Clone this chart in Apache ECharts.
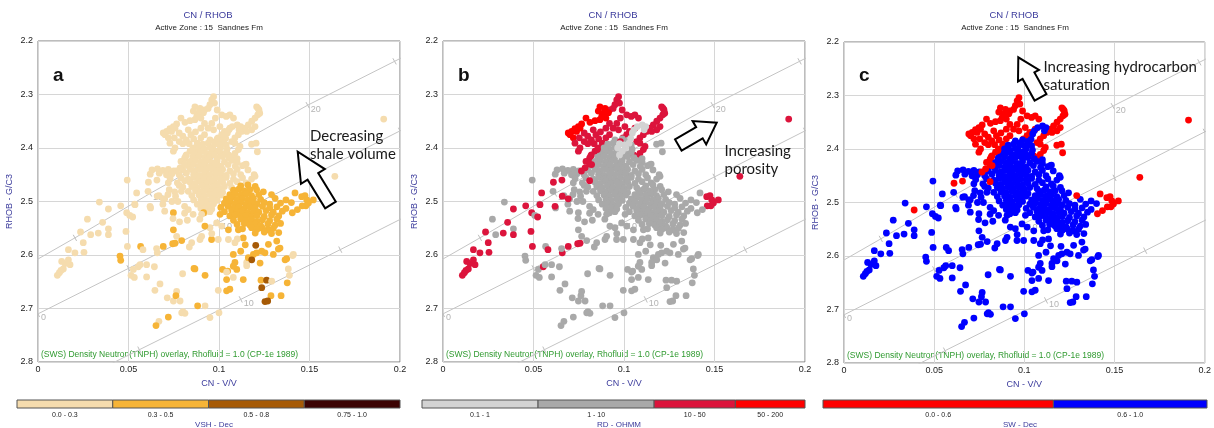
<!DOCTYPE html>
<html>
<head>
<meta charset="utf-8">
<script src="https://cdn.jsdelivr.net/npm/echarts@6/dist/echarts.min.js"></script>
<style>
  html, body { margin: 0; padding: 0; background: #ffffff; }
  #chart { width: 1214px; height: 428px; }
</style>
</head>
<body>
<div id="chart"></div>
<script>
// ---------------------------------------------------------------
// Sandnes Fm, zone 15 : CN / RHOB crossplots coloured by VSH, RD, SW
// Each sample: [CN (v/v), RHOB (g/cc), VSH bin, RD bin, SW bin]
// ---------------------------------------------------------------

// upper, high-resistivity part of the cloud
const upperZone = [
  [0.0970,2.304,0,2,0],[0.0960,2.310,0,2,0],[0.0975,2.316,0,2,0],[0.0950,2.319,0,2,0],[0.0940,2.326,0,2,0],
  [0.0920,2.329,0,2,0],[0.0990,2.329,0,2,0],[0.1015,2.338,0,2,0],[0.1040,2.341,0,2,0],[0.1060,2.338,0,2,0],
  [0.1080,2.344,0,2,0],[0.0980,2.344,0,2,0],[0.0960,2.354,0,2,0],[0.0940,2.363,0,2,0],[0.0970,2.366,0,2,0],
  [0.0920,2.375,0,2,0],[0.0900,2.381,0,2,0],[0.0880,2.391,0,2,0],[0.0860,2.400,0,2,0],[0.0840,2.406,0,2,0],
  [0.0820,2.413,0,2,0],[0.0810,2.419,0,2,0],[0.0790,2.425,0,2,0],[0.0860,2.413,0,2,0],[0.0880,2.406,0,2,0],
  [0.0895,2.403,0,2,0],[0.0995,2.381,0,2,0],[0.1015,2.375,0,2,0],[0.1030,2.369,0,2,0],
  [0.1060,2.363,0,2,0],[0.1005,2.360,0,2,0],[0.0920,2.354,0,2,0],[0.0900,2.363,0,2,0],
  [0.0780,2.372,0,2,0],[0.0800,2.378,0,2,0],[0.0820,2.385,0,2,0],[0.0835,2.392,0,2,0],[0.0800,2.392,0,2,0],
  [0.0780,2.388,0,2,0],[0.0845,2.375,0,2,0],[0.0830,2.366,0,2,0],[0.0870,2.370,0,2,0],[0.0860,2.383,0,2,0],
  [0.0867,2.323,0,3,0],[0.0895,2.326,0,3,0],[0.0914,2.334,0,3,0],[0.0886,2.335,0,3,0],[0.0858,2.331,0,3,0],
  [0.0877,2.341,0,3,0],[0.0900,2.344,0,3,0],[0.0867,2.347,0,3,0],[0.0840,2.349,0,3,0],[0.0812,2.352,0,3,0],
  [0.0790,2.344,0,3,0],[0.0766,2.355,0,3,0],[0.0748,2.360,0,3,0],[0.0729,2.364,0,3,0],[0.0711,2.369,0,3,0],
  [0.0692,2.372,0,3,0],[0.0702,2.375,0,3,0],[0.0738,2.369,0,3,0],[0.0757,2.363,0,3,0],[0.0720,2.381,0,3,0],
  [0.0753,2.381,0,2,0],[0.0757,2.400,0,2,0],[0.0748,2.406,0,2,0],[0.0729,2.391,0,2,0],
  [0.1208,2.323,0,2,0],[0.1221,2.329,0,2,0],[0.1214,2.338,0,2,0],[0.1199,2.344,0,2,0],[0.1181,2.350,0,2,0],
  [0.1162,2.357,0,2,0],[0.1144,2.363,0,2,0],[0.1125,2.369,0,2,0],[0.1107,2.375,0,2,0],[0.1088,2.381,0,2,0],
  [0.1070,2.388,0,2,0],[0.1199,2.360,0,2,0],[0.1181,2.366,0,2,0],[0.1153,2.369,0,2,0],[0.1088,2.391,0,2,0],
  [0.1107,2.403,0,2,0],[0.1088,2.410,0,2,0],[0.1070,2.416,0,2,0],[0.1052,2.413,0,2,0],[0.1116,2.397,0,2,0],
  [0.1216,2.326,0,2,0],[0.1225,2.335,0,2,0],
  [0.1180,2.393,0,1,0],[0.1205,2.391,0,1,0],[0.1212,2.407,0,1,0]
];

// dense, clean, water-bearing core
const coreZone = [
  [0.0950,2.385,0,1,1],[0.0990,2.383,0,1,1],[0.1020,2.386,0,1,1],[0.0980,2.388,0,2,1],
  [0.0910,2.393,0,1,1],[0.0940,2.391,0,1,1],[0.1040,2.394,0,1,1],
  [0.0890,2.400,0,1,1],[0.0920,2.402,0,1,1],[0.0950,2.399,0,1,1],[0.1045,2.402,0,1,1],
  [0.0870,2.409,0,1,1],[0.0900,2.407,0,1,1],[0.0930,2.410,0,1,1],[0.0960,2.408,0,1,1],[0.1010,2.411,0,1,1],[0.1040,2.408,0,1,1],
  [0.0855,2.417,0,1,1],[0.0890,2.415,0,1,1],[0.0920,2.418,0,1,1],[0.0950,2.416,0,1,1],[0.0990,2.419,0,1,1],[0.1020,2.416,0,1,1],[0.1055,2.418,0,1,1],[0.1100,2.420,0,1,1],
  [0.0840,2.425,0,1,1],[0.0870,2.423,0,1,1],[0.0900,2.426,0,1,1],[0.0930,2.424,0,1,1],[0.0960,2.427,0,1,1],[0.0990,2.424,0,1,1],[0.1030,2.426,0,1,1],[0.1070,2.423,0,1,1],[0.1100,2.427,0,1,1],
  [0.0830,2.433,0,1,1],[0.0860,2.431,0,1,1],[0.0890,2.434,0,1,1],[0.0920,2.432,0,1,1],[0.0950,2.435,0,1,1],[0.0980,2.432,0,1,1],[0.1010,2.434,0,1,1],[0.1050,2.431,0,1,1],[0.1090,2.434,0,1,1],[0.1130,2.433,0,1,1],
  [0.0630,2.441,0,1,1],[0.0660,2.439,0,1,1],[0.0690,2.442,0,1,1],[0.0720,2.440,0,1,1],[0.0750,2.443,0,1,1],[0.0800,2.441,0,1,1],[0.0840,2.440,0,1,1],[0.0870,2.443,0,1,1],
  [0.0900,2.440,0,1,1],[0.0930,2.442,0,1,1],[0.0960,2.439,0,1,1],[0.0990,2.442,0,1,1],[0.1020,2.440,0,1,1],[0.1060,2.443,0,1,1],[0.1100,2.440,0,1,1],[0.1160,2.441,0,1,1],
  [0.0620,2.449,0,1,1],[0.0670,2.447,0,1,1],[0.0710,2.450,0,1,1],[0.0740,2.448,0,1,1],[0.0780,2.450,0,1,1],[0.0820,2.447,0,1,1],[0.0860,2.449,0,1,1],[0.0890,2.451,0,1,1],
  [0.0920,2.448,0,1,1],[0.0950,2.450,0,1,1],[0.0980,2.447,0,1,1],[0.1010,2.449,0,1,1],[0.1040,2.451,0,1,1],[0.1080,2.448,0,1,1],[0.1120,2.450,0,1,1],[0.1194,2.450,0,1,1],
  [0.0730,2.457,0,1,1],[0.0790,2.456,0,1,1],[0.0830,2.458,0,1,1],[0.0860,2.455,0,1,1],[0.0890,2.458,0,1,1],[0.0920,2.456,0,1,1],[0.0950,2.459,0,1,1],[0.0980,2.456,0,1,1],
  [0.1010,2.458,0,1,1],[0.1040,2.455,0,1,1],[0.1080,2.458,0,1,1],[0.1130,2.456,0,1,1],[0.1180,2.458,0,1,1],
  [0.0720,2.465,0,1,1],[0.0770,2.465,0,1,1],[0.0840,2.464,0,1,1],[0.0870,2.466,0,1,1],[0.0900,2.463,0,1,1],[0.0930,2.466,0,1,1],[0.0960,2.464,0,1,1],[0.0990,2.467,0,1,1],[0.1020,2.464,0,1,1],
  [0.1060,2.466,0,1,1],[0.1100,2.463,0,1,1],[0.1150,2.465,0,1,1],
  [0.0780,2.470,0,1,1],[0.0800,2.473,0,1,1],[0.0850,2.472,0,1,1],[0.0880,2.474,0,1,1],[0.0910,2.471,0,1,1],[0.0940,2.474,0,1,1],[0.0970,2.472,0,1,1],[0.1000,2.475,0,1,1],[0.1030,2.472,0,1,1],[0.1070,2.474,0,1,1],
  [0.0725,2.478,0,1,1],[0.0830,2.481,0,1,1],[0.0870,2.480,0,1,1],[0.0900,2.482,0,1,1],[0.0930,2.479,0,1,1],[0.0960,2.482,0,1,1],[0.0990,2.480,0,1,1],[0.1020,2.483,0,1,1],
  [0.0668,2.489,0,1,1],[0.0760,2.490,0,1,1],[0.0850,2.489,0,1,1],[0.0890,2.488,0,1,1],[0.0920,2.490,0,1,1],[0.0950,2.487,0,1,1],[0.0980,2.490,0,1,1],[0.1010,2.488,0,1,1],
  [0.0700,2.495,0,1,1],[0.0740,2.500,0,1,1],[0.0860,2.497,0,1,1],[0.0900,2.496,0,1,1],[0.0930,2.498,0,1,1],[0.0960,2.495,0,1,1],[0.0990,2.498,0,1,1],
  [0.0690,2.505,0,1,1],[0.0880,2.505,0,1,1],[0.0910,2.503,0,1,1],[0.0940,2.506,0,1,1],[0.0970,2.504,0,1,1],
  [0.0900,2.513,0,1,1],[0.0930,2.511,0,1,1],[0.0960,2.514,0,1,1],
  [0.0920,2.521,0,1,1],[0.0950,2.519,0,1,1],
  [0.0608,2.481,0,1,1],[0.0718,2.487,0,1,1],[0.0755,2.482,0,1,1],[0.0792,2.481,0,1,1],[0.0773,2.500,0,1,1],
  [0.0810,2.509,0,1,1],[0.0700,2.518,0,1,1],[0.0810,2.522,0,1,1],[0.0534,2.505,0,1,1],[0.0622,2.512,0,1,1],
  [0.0493,2.460,0,1,1],[0.1150,2.430,0,1,1],[0.1144,2.431,0,1,1],[0.1199,2.453,0,1,1]
];

// low-resistivity streak near the top of the core
const lowResStreak = [
  [0.1101,2.357,0,0,1],[0.1074,2.360,0,0,1],[0.1055,2.366,0,0,1],[0.1046,2.372,0,0,1],[0.1037,2.382,0,0,1],
  [0.1120,2.360,0,0,1],[0.1111,2.366,0,0,1],[0.1028,2.391,0,0,1],[0.1009,2.400,0,0,1],[0.0990,2.406,0,0,1],
  [0.0975,2.413,0,0,1],[0.1000,2.394,0,0,1],[0.0965,2.400,0,0,1],[0.0975,2.392,0,0,1]
];

// hydrocarbon-bearing streak crossing the top of the core
const crossStreak = [
  [0.0821,2.431,0,2,0],[0.0785,2.437,0,2,0],[0.0765,2.443,0,2,0],[0.0816,2.415,0,2,0],[0.0853,2.403,0,2,0],
  [0.0810,2.430,0,2,0],[0.0610,2.464,0,2,0],[0.0657,2.460,0,2,0],[0.0810,2.461,0,2,0]
];

// shalier block on the right of the core
const shalyBlock = [
  [0.1120,2.471,1,1,1],[0.1160,2.469,1,1,1],[0.1200,2.472,1,1,1],[0.1208,2.478,1,1,1],[0.1245,2.482,1,1,1],
  [0.1080,2.479,1,1,1],[0.1110,2.477,1,1,1],[0.1140,2.480,1,1,1],[0.1170,2.478,1,1,1],
  [0.1060,2.487,1,1,1],[0.1090,2.485,1,1,1],[0.1120,2.488,1,1,1],[0.1150,2.486,1,1,1],[0.1180,2.489,1,1,1],[0.1220,2.487,1,1,1],
  [0.1040,2.495,1,1,1],[0.1070,2.493,1,1,1],[0.1100,2.496,1,1,1],[0.1130,2.494,1,1,1],[0.1160,2.497,1,1,1],[0.1190,2.494,1,1,1],[0.1230,2.496,1,1,1],[0.1310,2.494,1,1,1],[0.1370,2.497,1,1,1],
  [0.1030,2.503,1,1,1],[0.1060,2.501,1,1,1],[0.1090,2.504,1,1,1],[0.1120,2.502,1,1,1],[0.1150,2.505,1,1,1],[0.1180,2.502,1,1,1],[0.1210,2.504,1,1,1],[0.1250,2.502,1,1,1],[0.1280,2.505,1,1,1],[0.1340,2.503,1,1,1],[0.1400,2.502,1,1,1],
  [0.1010,2.511,1,1,1],[0.1050,2.509,1,1,1],[0.1080,2.512,1,1,1],[0.1110,2.510,1,1,1],[0.1140,2.513,1,1,1],[0.1170,2.510,1,1,1],[0.1200,2.512,1,1,1],[0.1240,2.509,1,1,1],[0.1280,2.512,1,1,1],[0.1320,2.510,1,1,1],[0.1370,2.513,1,1,1],
  [0.1030,2.519,1,1,1],[0.1070,2.517,1,1,1],[0.1100,2.520,1,1,1],[0.1130,2.518,1,1,1],[0.1160,2.521,1,1,1],[0.1190,2.518,1,1,1],[0.1220,2.520,1,1,1],[0.1260,2.517,1,1,1],[0.1300,2.520,1,1,1],[0.1350,2.518,1,1,1],
  [0.1060,2.527,1,1,1],[0.1090,2.525,1,1,1],[0.1120,2.528,1,1,1],[0.1150,2.526,1,1,1],[0.1180,2.529,1,1,1],[0.1210,2.526,1,1,1],[0.1250,2.528,1,1,1],[0.1290,2.525,1,1,1],[0.1330,2.527,1,1,1],
  [0.1080,2.535,1,1,1],[0.1120,2.533,1,1,1],[0.1150,2.536,1,1,1],[0.1180,2.534,1,1,1],[0.1210,2.537,1,1,1],[0.1240,2.534,1,1,1],[0.1280,2.536,1,1,1],[0.1320,2.533,1,1,1],
  [0.1100,2.543,1,1,1],[0.1140,2.541,1,1,1],[0.1170,2.544,1,1,1],[0.1200,2.542,1,1,1],[0.1230,2.545,1,1,1],[0.1270,2.542,1,1,1],[0.1310,2.544,1,1,1],[0.1340,2.541,1,1,1],
  [0.1130,2.551,1,1,1],[0.1180,2.549,1,1,1],[0.1210,2.552,1,1,1],[0.1240,2.550,1,1,1],[0.1270,2.553,1,1,1],[0.1300,2.550,1,1,1],
  [0.1200,2.559,1,1,1],[0.1250,2.557,1,1,1],[0.1290,2.560,1,1,1],[0.1330,2.558,1,1,1]
];

// isolated high-porosity / hydrocarbon samples on the right
const rightZone = [
  [0.1420,2.484,1,1,0],[0.1290,2.487,1,1,0],[0.1457,2.491,1,2,0],[0.1475,2.489,1,2,0],[0.1485,2.497,1,2,0],
  [0.1494,2.503,1,2,0],[0.1521,2.497,1,2,0],[0.1480,2.508,1,2,0],[0.1460,2.508,1,2,0],[0.1433,2.515,1,1,0],
  [0.1405,2.521,1,1,0],[0.1640,2.453,0,2,0],[0.1910,2.346,0,2,0]
];

// tight streaks along the sandstone line
const leftZone = [
  [0.0107,2.638,0,2,1],[0.0118,2.633,0,2,1],[0.0127,2.629,0,2,1],[0.0140,2.626,0,2,1],[0.0131,2.612,0,2,1],
  [0.0149,2.616,0,2,1],[0.0177,2.618,0,2,1],[0.0168,2.609,0,2,1],[0.0168,2.590,0,2,1],[0.0204,2.596,0,2,1],
  [0.0254,2.595,0,2,1],[0.0250,2.577,0,2,1],[0.0235,2.557,0,2,1],[0.0273,2.533,0,1,1],[0.0291,2.562,0,1,1],
  [0.0333,2.559,0,2,1],[0.0339,2.501,0,1,1],[0.0357,2.539,0,2,1],[0.0389,2.514,0,2,0],[0.0389,2.551,0,1,1],
  [0.0389,2.562,0,2,1],[0.0457,2.508,0,2,1],[0.0453,2.602,1,1,1],[0.0457,2.610,1,1,1],[0.0490,2.521,0,2,1],
  [0.0507,2.526,0,1,1],[0.0523,2.529,0,2,1],[0.0486,2.556,0,2,1],[0.0494,2.584,0,2,1],[0.0536,2.506,0,2,1],
  [0.0545,2.484,0,2,1],[0.0514,2.638,0,1,1],[0.0532,2.642,0,1,1],[0.0527,2.627,0,1,1],[0.0554,2.622,0,2,1],
  [0.0567,2.584,1,1,1],[0.0580,2.590,0,2,1],[0.0564,2.618,0,1,1],[0.0600,2.618,0,1,1],[0.0600,2.641,0,1,1],
  [0.0643,2.622,0,1,1],[0.0619,2.509,0,2,1],[0.0659,2.490,0,2,1],[0.0659,2.596,0,2,1],[0.0655,2.588,0,1,1],
  [0.0692,2.495,0,2,1],[0.0692,2.584,1,2,1],[0.0744,2.579,1,2,1],[0.0757,2.578,1,2,1]
];

// scattered, denser samples below the core
const lowerZone = [
  [0.0748,2.521,1,1,1],[0.0915,2.521,1,1,1],[0.1006,2.524,1,1,1],[0.0830,2.515,0,1,1],[0.0857,2.524,0,1,1],
  [0.0894,2.533,0,1,1],[0.0950,2.549,0,1,1],[0.0987,2.540,0,1,1],[0.0782,2.538,0,1,1],[0.0746,2.532,0,1,1],
  [0.0825,2.535,0,1,1],[0.0895,2.571,0,1,1],[0.0922,2.546,1,1,1],[0.0959,2.571,1,1,1],[0.0996,2.571,0,1,1],
  [0.1052,2.571,0,1,1],[0.1088,2.577,0,1,1],[0.1107,2.553,1,1,1],[0.1134,2.568,1,1,1],[0.0904,2.524,0,1,1],
  [0.1015,2.546,0,1,1],[0.1052,2.553,1,1,1],[0.0904,2.565,0,1,1],[0.0849,2.577,0,1,1],[0.0960,2.560,0,1,1],
  [0.1101,2.570,0,1,1],[0.1319,2.574,1,1,1],[0.0836,2.585,0,1,1],[0.0766,2.565,0,1,1],[0.0748,2.553,1,1,1],
  [0.0794,2.573,1,1,1],
  [0.1079,2.599,1,1,1],[0.1088,2.614,1,1,1],[0.1153,2.614,0,1,1],[0.1162,2.605,1,1,1],[0.1190,2.599,1,1,1],
  [0.1208,2.596,1,1,1],[0.1236,2.593,1,1,1],[0.1254,2.596,1,1,1],[0.1300,2.599,1,1,1],[0.1337,2.587,1,1,1],
  [0.1365,2.609,1,1,1],[0.1411,2.599,0,1,1],[0.1273,2.580,1,1,1],[0.1203,2.582,2,1,1],[0.1181,2.609,2,1,1],
  [0.1227,2.615,1,1,1],[0.1048,2.630,1,1,1],[0.1042,2.646,1,1,1],[0.1079,2.642,0,1,1],[0.1134,2.646,1,1,1],
  [0.1098,2.627,1,1,1],[0.1079,2.621,1,1,1],[0.1145,2.581,1,1,1],[0.1120,2.593,1,1,1],[0.1153,2.620,0,1,1],
  [0.1232,2.647,1,1,1],[0.1263,2.647,2,1,1],[0.1291,2.649,0,1,1],[0.1236,2.661,2,1,1],[0.1287,2.676,1,1,1],
  [0.1343,2.676,1,1,1],[0.1254,2.687,2,1,1],[0.1269,2.686,2,1,1],[0.1383,2.626,0,1,1],[0.1389,2.638,0,1,1],
  [0.1377,2.652,1,1,1],[0.1042,2.667,1,1,1],[0.1060,2.664,1,1,1],[0.0996,2.666,0,1,1],[0.1020,2.627,1,1,1],
  [0.1042,2.632,0,1,1],[0.0867,2.626,1,1,1],[0.0923,2.638,1,1,1],[0.0882,2.695,1,1,1],[0.0923,2.695,0,1,1],
  [0.0812,2.709,0,1,1],[0.0794,2.708,0,1,1],[0.0950,2.717,0,1,1],[0.1000,2.708,0,1,1],[0.0720,2.716,1,1,1],
  [0.0668,2.724,0,1,1],[0.0652,2.732,1,1,1],[0.0646,2.666,0,1,1],[0.0674,2.654,0,1,1],[0.0714,2.680,0,1,1],
  [0.0748,2.686,0,1,1],[0.0766,2.668,0,1,1],[0.0762,2.676,1,1,1],[0.0785,2.686,0,1,1],[0.0799,2.635,0,1,1],
  [0.0862,2.625,1,1,1],[0.0801,2.706,0,1,1],[0.1328,2.589,1,1,1],[0.1374,2.607,1,1,1],[0.1407,2.601,0,1,1]
];

// CP-1e (1989) TNPH lithology lines, porosity ticks every 5 p.u.
const ssCN   = [-0.022, 0.0204, 0.0619, 0.105, 0.149, 0.197, 0.245];
const ssRHOB = [2.650, 2.568, 2.485, 2.403, 2.320, 2.238, 2.155];
const ssTags = ['', '', '10', '', '20', '', ''];
const lsCN   = [0.000, 0.050, 0.100, 0.150, 0.200, 0.250];
const lsRHOB = [2.710, 2.625, 2.539, 2.454, 2.368, 2.283];
const lsTags = ['0', '', '10', '', '', ''];
const dolCN   = [0.001, 0.056, 0.112, 0.167, 0.222];
const dolRHOB = [2.870, 2.777, 2.683, 2.590, 2.496];
const dolTags = ['', '', '10', '', ''];

// colour bins
const vshBins = ['0.0 - 0.3', '0.3 - 0.5', '0.5 - 0.8', '0.75 - 1.0'];
const rdBins  = ['0.1 - 1', '1 - 10', '10 - 50', '50 - 200'];
const swBins  = ['0.0 - 0.6', '0.6 - 1.0'];

const allSamples = [].concat(upperZone, coreZone, lowResStreak, crossStreak, shalyBlock, rightZone, leftZone, lowerZone);

const lithLines = [
  { cn: ssCN, rhob: ssRHOB, tags: ssTags },
  { cn: lsCN, rhob: lsRHOB, tags: lsTags },
  { cn: dolCN, rhob: dolRHOB, tags: dolTags }
];

const panels = [
  { letter: 'a', field: 2, bins: vshBins, legendTitle: 'VSH - Dec',
    colors: ['#f5dcae', '#f6b437', '#a65a06', '#3c0303'], weights: [1, 1, 1, 1],
    grid: { left: 38, top: 41 }, titleX: 208, barX: 17, barW: 383 },
  { letter: 'b', field: 3, bins: rdBins, legendTitle: 'RD - OHMM',
    colors: ['#d3d3d3', '#a9a9a9', '#dc143c', '#ff0000'], weights: [1, 1, 0.7, 0.6],
    grid: { left: 443, top: 41 }, titleX: 613, barX: 422, barW: 383 },
  { letter: 'c', field: 4, bins: swBins, legendTitle: 'SW - Dec',
    colors: ['#ff0000', '#0000ff'], weights: [0.6, 0.4],
    grid: { left: 844, top: 42 }, titleX: 1014, barX: 823, barW: 384 }
];

const PLOT_W = 362, PLOT_H = 321;
const AXIS_BLUE = '#3b3b9c';
const LABEL_FONT = 'Liberation Sans, Arial, sans-serif';
const NOTE_FONT = 'Lato, "Open Sans", sans-serif';

const chart = echarts.init(document.getElementById('chart'), null, { renderer: 'canvas', width: 1214, height: 428 });

const grids = [], xAxes = [], yAxes = [], series = [], graphics = [];

panels.forEach((p, i) => {
  grids.push({ left: p.grid.left, top: p.grid.top, width: PLOT_W, height: PLOT_H,
    show: true, borderColor: '#7a7a7a', borderWidth: 1, backgroundColor: 'transparent' });

  xAxes.push({
    gridIndex: i, type: 'value', min: 0, max: 0.2, interval: 0.05,
    name: 'CN - V/V', nameLocation: 'middle', nameGap: 16,
    nameTextStyle: { color: AXIS_BLUE, fontSize: 9, fontFamily: LABEL_FONT },
    axisLine: { show: false }, axisTick: { show: false },
    axisLabel: { color: '#222', fontSize: 9, fontFamily: LABEL_FONT, margin: 3,
      formatter: v => String(Number(v.toFixed(2))) },
    splitLine: { show: true, lineStyle: { color: '#d6d6d6', width: 1 } }
  });

  yAxes.push({
    gridIndex: i, type: 'value', inverse: true, min: 2.2, max: 2.8, interval: 0.1,
    name: 'RHOB - G/C3', nameLocation: 'middle', nameGap: 24, nameRotate: 90,
    nameTextStyle: { color: AXIS_BLUE, fontSize: 9, fontFamily: LABEL_FONT },
    axisLine: { show: false }, axisTick: { show: false },
    axisLabel: { color: '#222', fontSize: 9, fontFamily: LABEL_FONT, margin: 5,
      formatter: v => v.toFixed(1) },
    splitLine: { show: true, lineStyle: { color: '#d6d6d6', width: 1 } }
  });

  // lithology lines
  lithLines.forEach(L => {
    series.push({
      type: 'line', xAxisIndex: i, yAxisIndex: i, z: 1, silent: true, clip: true,
      symbol: 'none', data: L.cn.map((c, k) => [c, L.rhob[k]]),
      lineStyle: { color: '#c4c4c4', width: 1 }
    });
    // porosity ticks and labels along the line
    series.push({
      type: 'custom', xAxisIndex: i, yAxisIndex: i, z: 1, silent: true, clip: true,
      data: L.cn.map((c, k) => [c, L.rhob[k]]),
      renderItem(params, api) {
        const k = params.dataIndex;
        const pt = api.coord([L.cn[k], L.rhob[k]]);
        const a = api.coord([L.cn[0], L.rhob[0]]);
        const b = api.coord([L.cn[L.cn.length - 1], L.rhob[L.rhob.length - 1]]);
        const dx = b[0] - a[0], dy = b[1] - a[1], len = Math.hypot(dx, dy);
        const nx = -dy / len * 3.5, ny = dx / len * 3.5;
        const kids = [{ type: 'line',
          shape: { x1: pt[0] - nx, y1: pt[1] - ny, x2: pt[0] + nx, y2: pt[1] + ny },
          style: { stroke: '#bdbdbd', lineWidth: 1 } }];
        if (L.tags[k]) {
          kids.push({ type: 'text', x: pt[0] + 3, y: pt[1] + 4,
            style: { text: L.tags[k], fill: '#b4b4b4', font: '9px ' + LABEL_FONT,
              align: 'left', verticalAlign: 'middle' } });
        }
        return { type: 'group', children: kids };
      }
    });
  });

  // samples, drawn in sample order with the panel's colour bins
  series.push({
    type: 'scatter', xAxisIndex: i, yAxisIndex: i, z: 3, silent: true,
    symbol: 'circle', symbolSize: 6.8, large: false,
    data: allSamples.map(s => [s[0], s[1], s[p.field]]),
    itemStyle: { opacity: 1, color: prm => p.colors[prm.data[2]] },
    animation: false
  });

  // panel titles
  graphics.push({ type: 'text', x: p.titleX, y: 15, silent: true,
    style: { text: 'CN / RHOB', fill: AXIS_BLUE, font: '9.5px ' + LABEL_FONT, align: 'center', verticalAlign: 'middle' } });
  graphics.push({ type: 'text', x: p.titleX + 1, y: 28, silent: true,
    style: { text: 'Active Zone : 15  Sandnes Fm', fill: '#222', font: '8px ' + LABEL_FONT, align: 'center', verticalAlign: 'middle' } });
  // panel letter
  graphics.push({ type: 'text', x: p.grid.left + 15, y: 66, silent: true,
    style: { text: p.letter, fill: '#111', font: 'bold 19px ' + LABEL_FONT, align: 'left', verticalAlign: 'alphabetic' } });
  // overlay footnote
  graphics.push({ type: 'text', x: p.grid.left + 3, y: p.grid.top + 314, silent: true,
    style: { text: '(SWS) Density Neutron(TNPH) overlay, Rhofluid = 1.0 (CP-1e 1989)', fill: '#2f9a2f',
      font: '8.5px ' + LABEL_FONT, align: 'left', verticalAlign: 'middle' } });

  // colour legend bar
  const wSum = p.weights.reduce((s, w) => s + w, 0);
  let x0 = p.barX;
  p.bins.forEach((lab, k) => {
    const w = p.barW * p.weights[k] / wSum;
    graphics.push({ type: 'rect', silent: true, shape: { x: x0, y: 400, width: w, height: 8 },
      style: { fill: p.colors[k], stroke: '#555', lineWidth: 1 } });
    graphics.push({ type: 'text', x: x0 + w / 2, y: 415, silent: true,
      style: { text: lab, fill: '#222', font: '7px ' + LABEL_FONT, align: 'center', verticalAlign: 'middle' } });
    x0 += w;
  });
  graphics.push({ type: 'text', x: p.titleX + 6, y: 424.5, silent: true,
    style: { text: p.legendTitle, fill: AXIS_BLUE, font: '8px ' + LABEL_FONT, align: 'center', verticalAlign: 'middle' } });
});

// outlined block arrows for the interpretation notes
function blockArrow(tail, tip, shaftW, headW, headL) {
  const dx = tip[0] - tail[0], dy = tip[1] - tail[1], L = Math.hypot(dx, dy);
  const ux = dx / L, uy = dy / L, px = -uy, py = ux;
  const bx = tip[0] - ux * headL, by = tip[1] - uy * headL;
  return {
    type: 'polygon', silent: true, z: 10,
    shape: { points: [
      [tail[0] + px * shaftW / 2, tail[1] + py * shaftW / 2],
      [bx + px * shaftW / 2, by + py * shaftW / 2],
      [bx + px * headW / 2, by + py * headW / 2],
      tip,
      [bx - px * headW / 2, by - py * headW / 2],
      [bx - px * shaftW / 2, by - py * shaftW / 2],
      [tail[0] - px * shaftW / 2, tail[1] - py * shaftW / 2]
    ] },
    style: { fill: '#ffffff', stroke: '#000000', lineWidth: 2, lineJoin: 'miter' }
  };
}
graphics.push(blockArrow([330.5, 205], [297.7, 151.7], 12.5, 28, 29));
graphics.push(blockArrow([678.3, 145], [716.7, 122.7], 13, 27, 20));
graphics.push(blockArrow([1040.5, 97.3], [1018.3, 57.3], 13.5, 24, 21));

function note(x, y, text) {
  graphics.push({ type: 'text', x, y, silent: true, z: 10,
    style: { text, fill: '#1a1a1a', font: '15px ' + NOTE_FONT, align: 'left', verticalAlign: 'alphabetic' } });
}
note(310, 128.5, 'Decreasing');
note(310, 146.5, 'shale volume');
note(724.5, 143.5, 'Increasing');
note(724.5, 161.5, 'porosity');
note(1043.5, 60, 'Increasing hydrocarbon');
note(1043.5, 78, 'saturation');

chart.setOption({
  animation: false,
  backgroundColor: '#ffffff',
  grid: grids,
  xAxis: xAxes,
  yAxis: yAxes,
  series: series,
  graphic: graphics
});
</script>
</body>
</html>
